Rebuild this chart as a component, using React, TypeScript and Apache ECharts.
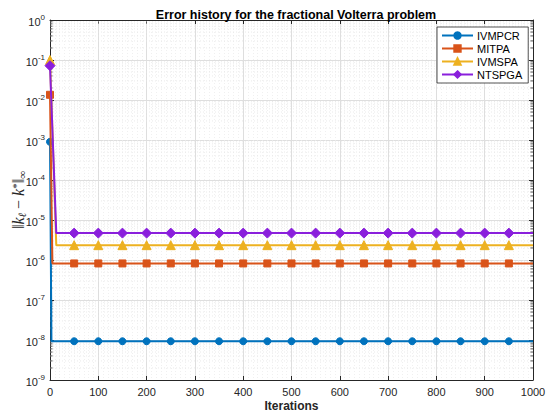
import React, { useEffect, useRef } from "react";
import * as echarts from "echarts";

// Iterations at which markers are drawn (shared by all series)
const markerIterations = [0, 50, 100, 150, 200, 250, 300, 350, 400, 450, 500, 550, 600, 650, 700, 750, 800, 850, 900, 950, 1000];

const seriesNames = ["IVMPCR", "MITPA", "IVMSPA", "NTSPGA"];

// error values at markerIterations
const ivmpcrValues = [9e-4, 9.3e-9, 9.3e-9, 9.3e-9, 9.3e-9, 9.3e-9, 9.3e-9, 9.3e-9, 9.3e-9, 9.3e-9, 9.3e-9, 9.3e-9, 9.3e-9, 9.3e-9, 9.3e-9, 9.3e-9, 9.3e-9, 9.3e-9, 9.3e-9, 9.3e-9, 9.3e-9];
const mitpaValues = [1.35e-2, 8.2e-7, 8.2e-7, 8.2e-7, 8.2e-7, 8.2e-7, 8.2e-7, 8.2e-7, 8.2e-7, 8.2e-7, 8.2e-7, 8.2e-7, 8.2e-7, 8.2e-7, 8.2e-7, 8.2e-7, 8.2e-7, 8.2e-7, 8.2e-7, 8.2e-7, 8.2e-7];
const ivmspaValues = [1.0e-1, 2.35e-6, 2.35e-6, 2.35e-6, 2.35e-6, 2.35e-6, 2.35e-6, 2.35e-6, 2.35e-6, 2.35e-6, 2.35e-6, 2.35e-6, 2.35e-6, 2.35e-6, 2.35e-6, 2.35e-6, 2.35e-6, 2.35e-6, 2.35e-6, 2.35e-6, 2.35e-6];
const ntspgaValues = [7.2e-2, 4.7e-6, 4.7e-6, 4.7e-6, 4.7e-6, 4.7e-6, 4.7e-6, 4.7e-6, 4.7e-6, 4.7e-6, 4.7e-6, 4.7e-6, 4.7e-6, 4.7e-6, 4.7e-6, 4.7e-6, 4.7e-6, 4.7e-6, 4.7e-6, 4.7e-6, 4.7e-6];
// iteration at which each method settles onto its plateau
const settleIterations = [3, 5, 13, 13];

const colors = ["#0072BD", "#D95319", "#EDB120", "#8A1FDC"];
const symbols = ["circle", "rect", "triangle", "diamond"];
const symbolSizes = [7, 7, 9, 10];

const FONT = "'Liberation Sans', Arial, sans-serif";
const SERIF = "'Liberation Serif', 'DejaVu Serif', serif";
const TXT = "#262626";

function buildData(values: number[], settle: number) {
  const out: any[] = [];
  markerIterations.forEach((it, i) => {
    if (i === 1) {
      out.push({ value: [settle, values[1]], symbol: "none" });
    }
    const last = i === markerIterations.length - 1;
    out.push(last ? { value: [it, values[i]], symbol: "none" } : { value: [it, values[i]] });
  });
  return out;
}

export default function App() {
  const ref = useRef<HTMLDivElement>(null);
  useEffect(() => {
    const chart = echarts.init(ref.current!, null, { renderer: "svg" });
    const allValues = [ivmpcrValues, mitpaValues, ivmspaValues, ntspgaValues];

    const minorY: any[] = [];
    for (let e = -9; e < 0; e++) {
      for (let m = 2; m <= 9; m++) minorY.push([0, m * Math.pow(10, e)]);
    }

    const lineSeries = seriesNames.map((name, k) => ({
      name,
      type: "line",
      data: buildData(allValues[k], settleIterations[k]),
      color: colors[k],
      symbol: symbols[k],
      symbolSize: symbolSizes[k],
      showAllSymbol: true,
      lineStyle: { width: 2, color: colors[k] },
      itemStyle: { color: colors[k], borderColor: colors[k], borderWidth: 1 },
      z: 3 + k,
    }));

    const supRich = {
      b: { fontSize: 11, fontFamily: FONT, color: TXT, lineHeight: 14, verticalAlign: "bottom" },
      s: { fontSize: 8, fontFamily: FONT, color: TXT, lineHeight: 14, verticalAlign: "top" },
    };

    chart.setOption({
      animation: false,
      backgroundColor: "#ffffff",
      title: {
        text: "Error history for the fractional Volterra problem",
        left: 291,
        textAlign: "center",
        top: 3,
        textStyle: { fontFamily: FONT, fontWeight: "bold", fontSize: 12.5, color: "#000" },
      },
      legend: {
        data: seriesNames,
        orient: "vertical",
        left: 437,
        top: 27,
        padding: [3, 6, 3, 4],
        itemWidth: 31,
        itemHeight: 8,
        itemGap: 2,
        borderColor: "#262626",
        borderWidth: 0.8,
        backgroundColor: "#fff",
        textStyle: { fontFamily: FONT, fontSize: 11, color: "#000", lineHeight: 10.5, padding: [0, 0, 0, -1] },
      },
      grid: { left: 50, top: 20, right: 17, bottom: 37, containLabel: false, outerBoundsMode: "none" },
      xAxis: [
        {
          type: "value",
          min: 0,
          max: 1000,
          interval: 100,
          name: "Iterations",
          nameLocation: "middle",
          nameGap: 20,
          nameMoveOverlap: false,
          nameTextStyle: { fontFamily: FONT, fontWeight: "bold", fontSize: 12, color: TXT },
          axisLine: { show: true, onZero: false, lineStyle: { color: TXT, width: 1 } },
          axisTick: { show: true, inside: true, length: 4, lineStyle: { color: TXT } },
          axisLabel: { fontFamily: FONT, fontSize: 11, color: TXT, margin: 6, formatter: (v: number) => String(v) },
          splitLine: { show: true, lineStyle: { color: "#dedede", width: 1 } },
          minorTick: { show: false, splitNumber: 10 },
          minorSplitLine: { show: true, lineStyle: { color: "#ececec", width: 0.8, type: [1, 2] } },
        },
        {
          type: "value",
          position: "top",
          min: 0,
          max: 1000,
          interval: 100,
          axisLine: { show: true, onZero: false, lineStyle: { color: TXT, width: 1 } },
          axisTick: { show: true, inside: true, length: 4, lineStyle: { color: TXT } },
          axisLabel: { show: false },
          splitLine: { show: false },
        },
      ],
      yAxis: [
        {
          type: "log",
          logBase: 10,
          min: 1e-9,
          max: 1,
          interval: 1,
          name: "{d|‖}{n|k}{sub|ℓ}{d| − }{n|k}{sup|*}{d|‖}{sub|∞}",
          nameLocation: "middle",
          nameGap: 23,
          nameMoveOverlap: false,
          nameTextStyle: {
            rich: {
              d: { fontFamily: SERIF, fontSize: 16, color: TXT, lineHeight: 17, verticalAlign: "middle" },
              n: { fontFamily: SERIF, fontStyle: "italic", fontSize: 16, color: TXT, lineHeight: 17, verticalAlign: "middle" },
              sub: { fontFamily: SERIF, fontStyle: "italic", fontSize: 11, color: TXT, lineHeight: 17, verticalAlign: "bottom" },
              sup: { fontFamily: SERIF, fontSize: 11, color: TXT, lineHeight: 17, verticalAlign: "top" },
            },
          },
          axisLine: { show: true, onZero: false, lineStyle: { color: TXT, width: 1 } },
          axisTick: { show: true, inside: true, length: 4, lineStyle: { color: TXT } },
          axisLabel: {
            margin: 5,
            formatter: (v: number) => `{b|10}{s|${Math.round(Math.log10(v))}}`,
            rich: supRich,
          },
          splitLine: { show: true, lineStyle: { color: "#dedede", width: 1 } },
        },
        {
          type: "log",
          logBase: 10,
          min: 1e-9,
          max: 1,
          interval: 1,
          position: "right",
          axisLine: { show: true, onZero: false, lineStyle: { color: TXT, width: 1 } },
          axisTick: { show: true, inside: true, length: 4, lineStyle: { color: TXT } },
          axisLabel: { show: false },
          splitLine: { show: false },
        },
      ],
      series: [
        {
          type: "custom",
          silent: true,
          z: 1,
          data: minorY,
          renderItem: (params: any, api: any) => {
            const v = api.value(1);
            const p1 = api.coord([0, v]);
            const p2 = api.coord([1000, v]);
            return {
              type: "group",
              children: [
                {
                  type: "line",
                  shape: { x1: p1[0], y1: p1[1], x2: p2[0], y2: p2[1] },
                  style: { stroke: "#e4e4e4", lineWidth: 0.8, lineDash: [1, 2] },
                },
                {
                  type: "line",
                  shape: { x1: p1[0], y1: p1[1], x2: p1[0] + 2.5, y2: p1[1] },
                  style: { stroke: TXT, lineWidth: 0.8 },
                },
                {
                  type: "line",
                  shape: { x1: p2[0] - 2.5, y1: p2[1], x2: p2[0], y2: p2[1] },
                  style: { stroke: TXT, lineWidth: 0.8 },
                },
              ],
            };
          },
        },
        ...lineSeries,
      ],
    });
    return () => chart.dispose();
  }, []);
  return (
    <div
      ref={ref}
      style={{ position: "fixed", left: 0, top: 0, width: 550, height: 417, background: "#fff" }}
    />
  );
}
